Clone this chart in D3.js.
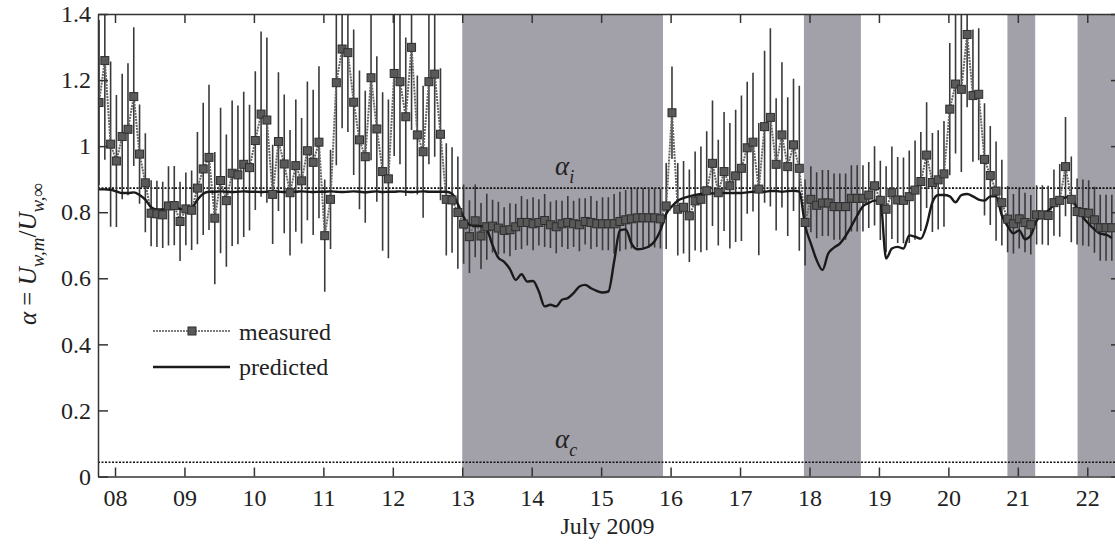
<!DOCTYPE html>
<html>
<head>
<meta charset="utf-8">
<style>
    body { margin: 0; background: #fff; }
    svg text { font-family: "Liberation Serif", "DejaVu Serif", serif; fill: #222; }
    .axis text { font-size: 24px; }
    .axis path, .axis line { stroke: #333; stroke-width: 1.5; }
</style>
</head>
<body>
<svg id="viz" width="1115" height="545"></svg>

<script src="https://cdnjs.cloudflare.com/ajax/libs/d3/7.8.5/d3.min.js"></script>
<script>
    // sampling of the series: every 2 hours from day 7.77
    var startDay = 7.77;
    var stepHours = 2;

    var measured = [
        1.132, 1.259, 1.006, 0.955, 1.029, 1.051, 1.150, 0.976, 0.889, 0.797,
        0.795, 0.792, 0.819, 0.820, 0.772, 0.810, 0.806, 0.873, 0.931, 0.966,
        0.782, 0.896, 0.835, 0.918, 0.913, 0.945, 0.935, 1.017, 1.097, 1.079,
        0.854, 1.014, 0.946, 0.859, 0.941, 0.895, 0.986, 0.951, 1.012, 0.729,
        0.839, 1.192, 1.294, 1.283, 1.133, 1.019, 0.968, 1.207, 1.052, 0.923,
        0.901, 1.220, 1.195, 1.089, 1.299, 1.034, 0.983, 1.195, 1.218, 1.036,
        0.839, 0.837, 0.799, 0.764, 0.726, 0.774, 0.728, 0.756, 0.758, 0.752,
        0.745, 0.747, 0.756, 0.769, 0.769, 0.765, 0.769, 0.775, 0.762, 0.756,
        0.765, 0.769, 0.765, 0.762, 0.772, 0.769, 0.765, 0.765, 0.765, 0.765,
        0.772, 0.777, 0.780, 0.783, 0.783, 0.783, 0.783, 0.780, 0.819, 1.101,
        0.809, 0.815, 0.789, 0.834, 0.839, 0.865, 0.948, 0.859, 0.923, 0.880,
        0.910, 0.933, 0.995, 1.012, 0.870, 1.059, 1.087, 0.945, 1.034, 0.938,
        1.004, 0.933, 0.769, 0.839, 0.821, 0.828, 0.828, 0.817, 0.817, 0.817,
        0.842, 0.842, 0.842, 0.852, 0.880, 0.836, 0.809, 0.859, 0.837, 0.836,
        0.847, 0.867, 0.893, 0.973, 0.890, 0.898, 0.916, 1.112, 1.188, 1.172,
        1.338, 1.153, 1.157, 0.960, 0.911, 0.864, 0.829, 0.779, 0.765, 0.780,
        0.769, 0.762, 0.792, 0.792, 0.790, 0.829, 0.836, 0.938, 0.839, 0.802,
        0.799, 0.797, 0.777, 0.753, 0.753, 0.753
    ];

    var errors = [
        0.25, 0.30, 0.25, 0.20, 0.19, 0.20, 0.21, 0.15, 0.15, 0.10,
        0.10, 0.10, 0.12, 0.12, 0.12, 0.11, 0.12, 0.17, 0.20, 0.22,
        0.20, 0.22, 0.20, 0.22, 0.21, 0.22, 0.19, 0.21, 0.25, 0.25,
        0.15, 0.21, 0.21, 0.19, 0.20, 0.19, 0.21, 0.22, 0.23, 0.17,
        0.15, 0.25, 0.24, 0.24, 0.22, 0.21, 0.20, 0.25, 0.22, 0.24,
        0.24, 0.25, 0.25, 0.24, 0.25, 0.18, 0.20, 0.25, 0.25, 0.20,
        0.17, 0.16, 0.17, 0.12, 0.11, 0.11, 0.10, 0.10, 0.08, 0.08,
        0.07, 0.08, 0.07, 0.08, 0.07, 0.08, 0.07, 0.08, 0.07, 0.08,
        0.07, 0.08, 0.07, 0.08, 0.07, 0.08, 0.07, 0.08, 0.08, 0.09,
        0.09, 0.09, 0.09, 0.09, 0.09, 0.09, 0.09, 0.09, 0.13, 0.14,
        0.14, 0.14, 0.14, 0.15, 0.16, 0.18, 0.19, 0.16, 0.18, 0.19,
        0.20, 0.22, 0.20, 0.21, 0.20, 0.23, 0.27, 0.20, 0.22, 0.21,
        0.20, 0.25, 0.13, 0.10, 0.10, 0.10, 0.10, 0.10, 0.10, 0.10,
        0.10, 0.10, 0.10, 0.10, 0.12, 0.12, 0.13, 0.14, 0.13, 0.13,
        0.14, 0.15, 0.15, 0.16, 0.15, 0.15, 0.16, 0.20, 0.21, 0.25,
        0.22, 0.20, 0.20, 0.17, 0.15, 0.15, 0.13, 0.10, 0.09, 0.09,
        0.09, 0.09, 0.09, 0.09, 0.09, 0.10, 0.11, 0.15, 0.13, 0.10,
        0.10, 0.10, 0.10, 0.10, 0.10, 0.10
    ];

    var predicted = [
        0.869, 0.869, 0.868, 0.863, 0.858, 0.858, 0.860, 0.852, 0.838, 0.815,
        0.808, 0.808, 0.812, 0.815, 0.810, 0.808, 0.812, 0.838, 0.856, 0.862,
        0.862, 0.863, 0.862, 0.861, 0.862, 0.863, 0.862, 0.862, 0.861, 0.862,
        0.863, 0.862, 0.861, 0.862, 0.862, 0.863, 0.862, 0.861, 0.862, 0.862,
        0.863, 0.862, 0.861, 0.862, 0.863, 0.862, 0.860, 0.862, 0.863, 0.861,
        0.862, 0.862, 0.863, 0.862, 0.861, 0.862, 0.863, 0.862, 0.862, 0.862,
        0.862, 0.856, 0.825, 0.785, 0.762, 0.758, 0.758, 0.748, 0.700, 0.662,
        0.650, 0.628, 0.595, 0.612, 0.590, 0.592, 0.560, 0.515, 0.520, 0.515,
        0.535, 0.540, 0.555, 0.575, 0.580, 0.570, 0.562, 0.557, 0.560, 0.650,
        0.745, 0.748, 0.705, 0.688, 0.690, 0.696, 0.712, 0.745, 0.795, 0.818,
        0.835, 0.843, 0.848, 0.852, 0.855, 0.857, 0.857, 0.858, 0.858, 0.858,
        0.858, 0.858, 0.860, 0.862, 0.862, 0.862, 0.864, 0.864, 0.862, 0.864,
        0.865, 0.862, 0.760, 0.705, 0.655, 0.625, 0.675, 0.693, 0.705, 0.728,
        0.758, 0.790, 0.818, 0.828, 0.835, 0.835, 0.660, 0.690, 0.695, 0.690,
        0.730, 0.726, 0.720, 0.760, 0.830, 0.852, 0.852, 0.848, 0.830, 0.852,
        0.855, 0.848, 0.838, 0.835, 0.848, 0.848, 0.790, 0.758, 0.736, 0.745,
        0.718, 0.730, 0.775, 0.788, 0.805, 0.822, 0.832, 0.845, 0.846, 0.810,
        0.785, 0.765, 0.748, 0.735, 0.732, 0.722
    ];

    // shaded periods (day of July)
    var shaded = [[13.0, 15.89], [17.92, 18.74], [20.85, 21.25], [21.86, 22.6]];

    var dayTicks = [8, 9, 10, 11, 12, 13, 14, 15, 16, 17, 18, 19, 20, 21, 22];
    var yTicks = [0, 0.2, 0.4, 0.6, 0.8, 1, 1.2, 1.4];

    var alphaI = 0.873;
    var alphaC = 0.043;

    var svg = d3.select('#viz');
    var m = { left: 98, right: 1117, top: 14, bottom: 476.5 };

    var x = d3.scaleLinear().domain([7.755, 22.428]).range([m.left, m.right]);
    var y = d3.scaleLinear().domain([0, 1.4]).range([m.bottom, m.top]);

    var points = measured.map(function(v, i) {
        return { t: startDay + i * stepHours / 24, v: v, e: errors[i], p: predicted[i] };
    });

    svg.append('defs').append('clipPath').attr('id', 'clip')
        .append('rect')
        .attr('x', m.left).attr('y', m.top)
        .attr('width', m.right - m.left).attr('height', m.bottom - m.top);

    var plot = svg.append('g').attr('clip-path', 'url(#clip)');

    plot.selectAll('rect.shade')
        .data(shaded)
        .enter().append('rect')
        .attr('class', 'shade')
        .attr('x', function(d) { return x(d[0]); })
        .attr('y', m.top)
        .attr('width', function(d) { return x(d[1]) - x(d[0]); })
        .attr('height', m.bottom - m.top)
        .attr('fill', '#a2a0a8');

    // reference levels
    [alphaI, alphaC].forEach(function(a) {
        plot.append('line')
            .attr('x1', m.left).attr('x2', m.right)
            .attr('y1', y(a)).attr('y2', y(a))
            .attr('stroke', '#111')
            .attr('stroke-width', 1.6)
            .attr('stroke-dasharray', '2,1.5');
    });

    // error bars
    plot.selectAll('line.err')
        .data(points)
        .enter().append('line')
        .attr('class', 'err')
        .attr('x1', function(d) { return x(d.t); })
        .attr('x2', function(d) { return x(d.t); })
        .attr('y1', function(d) { return y(d.v + d.e); })
        .attr('y2', function(d) { return y(d.v - d.e); })
        .attr('stroke', '#3a3a3a')
        .attr('stroke-width', 1.6);

    plot.append('path')
        .datum(points)
        .attr('d', d3.line()
            .x(function(d) { return x(d.t); })
            .y(function(d) { return y(d.v); }))
        .attr('fill', 'none')
        .attr('stroke', '#666')
        .attr('stroke-width', 2)
        .attr('stroke-dasharray', '2,1');

    plot.append('path')
        .datum(points)
        .attr('d', d3.line()
            .x(function(d) { return x(d.t); })
            .y(function(d) { return y(d.p); })
            .curve(d3.curveMonotoneX))
        .attr('fill', 'none')
        .attr('stroke', '#1a1a1a')
        .attr('stroke-width', 2.4);

    plot.selectAll('rect.pt')
        .data(points)
        .enter().append('rect')
        .attr('class', 'pt')
        .attr('x', function(d) { return x(d.t) - 4; })
        .attr('y', function(d) { return y(d.v) - 4; })
        .attr('width', 8).attr('height', 8)
        .attr('fill', '#595959')
        .attr('stroke', '#2e2e2e')
        .attr('stroke-width', 1);

    // axes
    svg.append('g').attr('class', 'axis')
        .attr('transform', 'translate(0,' + m.bottom + ')')
        .call(d3.axisBottom(x).tickValues(dayTicks).tickSize(-9).tickSizeOuter(0).tickPadding(12)
            .tickFormat(d3.format('02d')));

    svg.append('g').attr('class', 'axis')
        .attr('transform', 'translate(0,' + m.top + ')')
        .call(d3.axisTop(x).tickValues(dayTicks).tickSize(-9).tickSizeOuter(0).tickFormat(''));

    svg.append('g').attr('class', 'axis')
        .attr('transform', 'translate(' + m.left + ',0)')
        .call(d3.axisLeft(y).tickValues(yTicks).tickSize(-10).tickSizeOuter(0).tickPadding(7)
            .tickFormat(function(d) { return d === 0 || d === 1 ? String(d) : d.toFixed(1); }));

    svg.append('g').attr('class', 'axis')
        .attr('transform', 'translate(' + m.right + ',0)')
        .call(d3.axisRight(y).tickValues(yTicks).tickSize(-6).tickSizeOuter(0).tickFormat(''));

    // labels for reference levels
    function alphaLabel(a, sub, dy) {
        var t = svg.append('text')
            .attr('x', 555)
            .attr('y', y(a) - dy)
            .style('font-size', '27px')
            .style('font-style', 'italic');
        t.append('tspan').text('α');
        t.append('tspan').text(sub).attr('dy', 8).style('font-size', '18px');
    }
    alphaLabel(alphaI, 'i', 13);
    alphaLabel(alphaC, 'c', 14);

    svg.append('text')
        .attr('x', (m.left + m.right) / 2)
        .attr('y', 534)
        .attr('text-anchor', 'middle')
        .style('font-size', '24px')
        .text('July 2009');

    // y label
    var yl = svg.append('text')
        .attr('transform', 'translate(36,' + 254 + ') rotate(-90)')
        .attr('text-anchor', 'middle')
        .style('font-size', '25px')
        .style('font-style', 'italic');
    yl.append('tspan').text('α');
    yl.append('tspan').text(' = ').style('font-style', 'normal');
    yl.append('tspan').text('U');
    yl.append('tspan').text('w,m').attr('dy', 8).style('font-size', '19px');
    yl.append('tspan').text('/').attr('dy', -8).style('font-style', 'normal');
    yl.append('tspan').text('U');
    yl.append('tspan').text('w,∞').attr('dy', 8).style('font-size', '19px');

    // legend
    var legend = svg.append('g');
    legend.append('line')
        .attr('x1', 153).attr('x2', 230).attr('y1', 331).attr('y2', 331)
        .attr('stroke', '#555').attr('stroke-width', 1.5).attr('stroke-dasharray', '2,1');
    legend.append('rect')
        .attr('x', 188).attr('y', 327).attr('width', 8).attr('height', 8)
        .attr('fill', '#595959').attr('stroke', '#2e2e2e');
    legend.append('line')
        .attr('x1', 153).attr('x2', 230).attr('y1', 367).attr('y2', 367)
        .attr('stroke', '#1a1a1a').attr('stroke-width', 2.4);
    legend.append('text').attr('x', 239).attr('y', 340).style('font-size', '24px').text('measured');
    legend.append('text').attr('x', 239).attr('y', 375).style('font-size', '24px').text('predicted');
</script>
</body>
</html>
